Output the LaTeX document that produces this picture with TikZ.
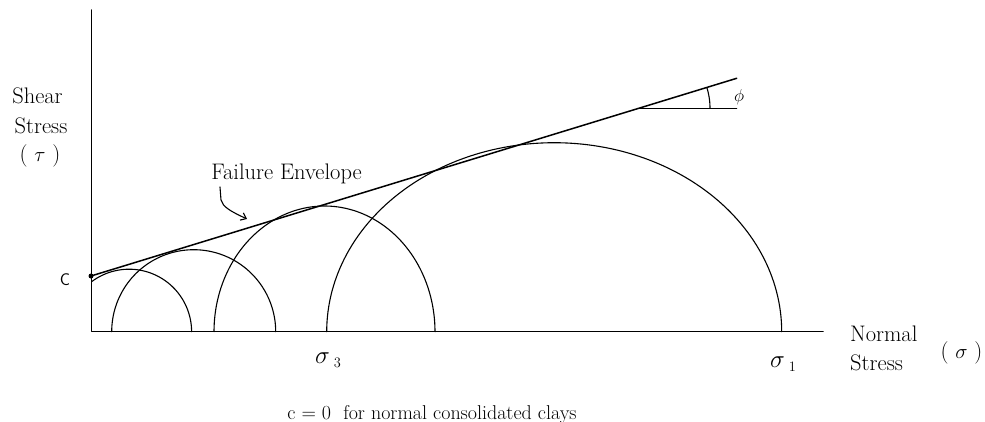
\documentclass[tikz,border=0pt]{standalone}
\usetikzlibrary{arrows.meta}
\begin{document}
\begin{tikzpicture}[x=1pt,y=-1pt,line cap=round,line join=round,
  axisline/.style={line width=1.5pt},
  mohr/.style={line width=1.1pt},
  envline/.style={line width=1.5pt},
  thinline/.style={line width=1.1pt},
  lbl/.style={inner sep=0pt,font=\fontsize{22.5}{26}\selectfont},
  smalllbl/.style={inner sep=0pt,font=\fontsize{18}{21}\selectfont},
  siglbl/.style={inner sep=0pt,font=\fontsize{27}{30}\selectfont}]
\useasboundingbox (0,0) rectangle (985,422);
% axes
\coordinate (O) at (91.7,331.7);
\coordinate (Ytop) at (91.7,10);
\coordinate (Xend) at (823,331.7);
\draw[axisline] (Ytop) -- (O) -- (Xend);
% Mohr circles
\draw[mohr] plot[domain=0:126.7,samples=60] ({129.1+62.5*cos(\x)},{331.7-62.5*sin(\x)});
\draw[mohr] plot[domain=0:180,samples=80] ({193.7+82*cos(\x)},{331.7-82*sin(\x)});
\draw[mohr] plot[domain=0:180,samples=90] ({324.5+110.5*cos(\x)},{331.7-125.7*sin(\x)});
\draw[mohr] plot[domain=0:180,samples=120] ({554.2+227.5*cos(\x)},{331.7-189*sin(\x)});
% failure envelope
\node[circle,fill,inner sep=0pt,minimum size=5pt] (cdot) at (91,276) {};
\coordinate (Eend) at (736.7,78.3);
\draw[envline] (cdot.center) -- (Eend);
% angle
\coordinate (Avert) at (640,108.3);
\coordinate (Hend) at (736.7,108.3);
\draw[thinline] (Avert) -- (Hend);
\draw[thinline] plot[domain=0:17,samples=20] ({640+70*cos(\x)},{108.3-70*sin(\x)});
\node[inner sep=0pt,font=\fontsize{17}{20}\selectfont] (phi) at (739,97) {$\phi$};
% labels
\node[lbl,anchor=base] (shear) at (37.5,103.3) {Shear};
\node[lbl,anchor=base] (stressy) at (41,133.3) {Stress};
\node[lbl,anchor=base] (tau) at (40,161.5) {( $\tau$ )};
\node[smalllbl,font=\fontsize{17}{20}\sffamily] (clab) at (65,280) {C};
\node[lbl,anchor=base] (fe) at (286.5,180) {Failure Envelope};
\coordinate (arrS) at (220,187);
\coordinate (arrE) at (247,219);
\draw[thinline,-{Straight Barb[length=5pt,width=8pt]}] (arrS) -- (221,200) .. controls (223,207) and (230,211) .. (arrE);
\node[siglbl,anchor=base west] (sig3) at (315,363.3) {$\sigma_{\;\scriptscriptstyle 3}$};
\node[siglbl,anchor=base west] (sig1) at (770,367.5) {$\sigma_{\;\scriptscriptstyle 1}$};
\node[lbl,anchor=base west] (normal) at (850,341.5) {Normal};
\node[lbl,anchor=base west] (stressx) at (850,370) {Stress};
\node[lbl] (sigpar) at (961.5,353) {( $\sigma$ )};
\node[inner sep=0pt,anchor=base,font=\fontsize{20}{23}\selectfont] (note) at (432,419) {c = 0\ \ for normal consolidated clays};
\end{tikzpicture}
\end{document}
